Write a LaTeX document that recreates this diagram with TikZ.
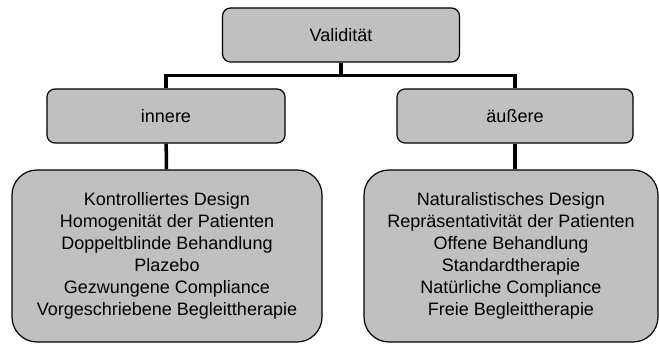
\documentclass[tikz,border=0pt]{standalone}
\usepackage{fontspec}
\setmainfont{Liberation Sans}
\usetikzlibrary{positioning,calc}
\definecolor{boxgray}{RGB}{192,192,192}

\begin{document}
\begin{tikzpicture}[x=1pt,y=1pt,
    box node/.style={rectangle,draw,fill=boxgray,line width=1.2pt,rounded corners=8pt,
      inner sep=0pt,minimum height=54pt,font=\fontsize{18pt}{22pt}\selectfont},
    list node/.style={box node,rounded corners=25pt,minimum height=172pt,align=center},
    tree line/.style={line width=3.5pt}]
    \useasboundingbox (0,0) rectangle (659,344);
    % nodes
      \node[box node,minimum width=237pt] (val) at (341,309) {Validität};
      \node[box node,minimum width=238pt] (inn) at (166,228) {innere};
      \node[box node,minimum width=236pt] (aus) at (515,228) {äußere};
      \node[list node,minimum width=310pt] (innlist) at (167,88)
        {Kontrolliertes Design\\Homogenität der Patienten\\Doppeltblinde Behandlung\\Plazebo\\Gezwungene Compliance\\Vorgeschriebene Begleittherapie};
      \node[list node,minimum width=294pt] (auslist) at (511,88)
        {Naturalistisches Design\\Repräsentativität der Patienten\\Offene Behandlung\\Standardtherapie\\Natürliche Compliance\\Freie Begleittherapie};
      \coordinate (bar) at ($(inn.north)+(0,13)$);
      %edges
      \draw[tree line] (val.south) -- (val.south |- bar);
      \draw[tree line] (inn.north) -- (bar) -| (aus.north);
      \path[every edge/.style={draw,tree line}]
        (inn) edge (innlist)
        (aus) edge (aus.south |- auslist.north);
    \end{tikzpicture}
\end{document}
